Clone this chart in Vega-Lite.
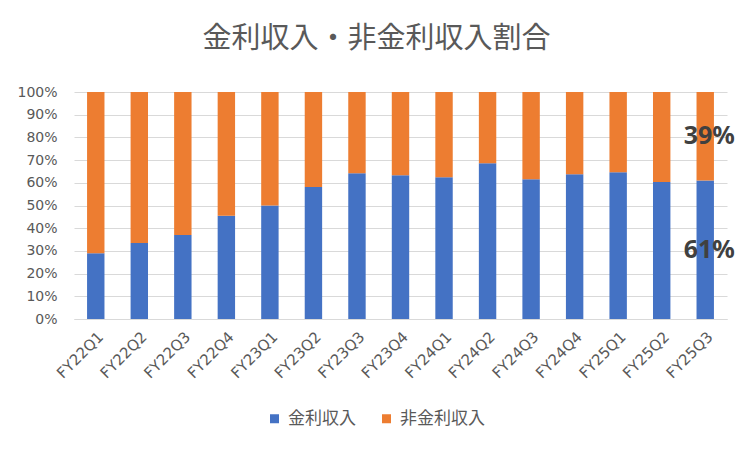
{
  "$schema": "https://vega.github.io/schema/vega-lite/v6.json",
  "width": 653,
  "height": 227,
  "autosize": "none",
  "padding": {"left": 74, "top": 92, "right": 25, "bottom": 133},
  "background": "white",
  "title": {
    "text": "金利収入・非金利収入割合",
    "font": "Noto Sans CJK JP",
    "fontSize": 29,
    "fontWeight": "normal",
    "color": "#595959",
    "anchor": "middle",
    "baseline": "alphabetic",
    "dx": -24,
    "offset": 8
  },
  "data": {
    "values": [
      {"quarter": "FY22Q1", "type": "金利収入", "value": 0.29},
      {"quarter": "FY22Q1", "type": "非金利収入", "value": 0.71},
      {"quarter": "FY22Q2", "type": "金利収入", "value": 0.335},
      {"quarter": "FY22Q2", "type": "非金利収入", "value": 0.665},
      {"quarter": "FY22Q3", "type": "金利収入", "value": 0.37},
      {"quarter": "FY22Q3", "type": "非金利収入", "value": 0.63},
      {"quarter": "FY22Q4", "type": "金利収入", "value": 0.455},
      {"quarter": "FY22Q4", "type": "非金利収入", "value": 0.545},
      {"quarter": "FY23Q1", "type": "金利収入", "value": 0.5},
      {"quarter": "FY23Q1", "type": "非金利収入", "value": 0.5},
      {"quarter": "FY23Q2", "type": "金利収入", "value": 0.582},
      {"quarter": "FY23Q2", "type": "非金利収入", "value": 0.418},
      {"quarter": "FY23Q3", "type": "金利収入", "value": 0.642},
      {"quarter": "FY23Q3", "type": "非金利収入", "value": 0.358},
      {"quarter": "FY23Q4", "type": "金利収入", "value": 0.633},
      {"quarter": "FY23Q4", "type": "非金利収入", "value": 0.367},
      {"quarter": "FY24Q1", "type": "金利収入", "value": 0.625},
      {"quarter": "FY24Q1", "type": "非金利収入", "value": 0.375},
      {"quarter": "FY24Q2", "type": "金利収入", "value": 0.686},
      {"quarter": "FY24Q2", "type": "非金利収入", "value": 0.314},
      {"quarter": "FY24Q3", "type": "金利収入", "value": 0.616},
      {"quarter": "FY24Q3", "type": "非金利収入", "value": 0.384},
      {"quarter": "FY24Q4", "type": "金利収入", "value": 0.638},
      {"quarter": "FY24Q4", "type": "非金利収入", "value": 0.362},
      {"quarter": "FY25Q1", "type": "金利収入", "value": 0.647},
      {"quarter": "FY25Q1", "type": "非金利収入", "value": 0.353},
      {"quarter": "FY25Q2", "type": "金利収入", "value": 0.603},
      {"quarter": "FY25Q2", "type": "非金利収入", "value": 0.397},
      {"quarter": "FY25Q3", "type": "金利収入", "value": 0.61},
      {"quarter": "FY25Q3", "type": "非金利収入", "value": 0.39}
    ]
  },
  "encoding": {
    "x": {
      "field": "quarter",
      "type": "ordinal",
      "title": null,
      "sort": null,
      "scale": {"paddingInner": 0.6, "paddingOuter": 0.3},
      "axis": {
        "labelAngle": -45,
        "labelFont": "DejaVu Sans",
        "labelFontSize": 15,
        "labelColor": "#595959",
        "labelPadding": 10,
        "ticks": false,
        "domainColor": "#d9d9d9",
        "domainWidth": 1
      }
    }
  },
  "layer": [
    {
      "mark": {"type": "bar"},
      "encoding": {
        "y": {
          "field": "value",
          "type": "quantitative",
          "stack": "zero",
          "title": null,
          "scale": {"domain": [0, 1]},
          "axis": {
            "format": ".0%",
            "values": [0, 0.1, 0.2, 0.3, 0.4, 0.5, 0.6, 0.7, 0.8, 0.9, 1],
            "labelOverlap": false,
            "labelFont": "DejaVu Sans",
            "labelFontSize": 14,
            "labelColor": "#595959",
            "labelPadding": 17,
            "ticks": false,
            "domain": false,
            "gridColor": "#d9d9d9",
            "gridWidth": 1
          }
        },
        "order": {"field": "type", "sort": "ascending"},
        "color": {
          "field": "type",
          "type": "nominal",
          "scale": {
            "domain": ["金利収入", "非金利収入"],
            "range": ["#4472C4", "#ED7D31"]
          },
          "legend": {
            "title": null,
            "orient": "none",
            "legendX": 192,
            "legendY": 318,
            "direction": "horizontal",
            "symbolType": "square",
            "symbolSize": 81,
            "symbolStrokeWidth": 0,
            "labelFont": "Noto Sans CJK JP",
            "labelFontSize": 17,
            "labelColor": "#595959",
            "labelOffset": 5,
            "columnPadding": 22
          }
        }
      }
    },
    {
      "transform": [
        {"filter": "datum.quarter == 'FY25Q3'"},
        {
          "stack": "value",
          "groupby": ["quarter"],
          "sort": [{"field": "type", "order": "ascending"}],
          "as": ["v0", "v1"]
        },
        {"calculate": "(datum.v0 + datum.v1) / 2", "as": "mid"}
      ],
      "mark": {
        "type": "text",
        "font": "Noto Sans",
        "fontSize": 25,
        "fontWeight": "bold",
        "color": "#404040",
        "align": "center",
        "baseline": "middle",
        "dx": 4
      },
      "encoding": {
        "y": {
          "field": "mid",
          "type": "quantitative",
          "title": null,
          "axis": {
            "format": ".0%",
            "values": [0, 0.1, 0.2, 0.3, 0.4, 0.5, 0.6, 0.7, 0.8, 0.9, 1],
            "labelOverlap": false,
            "labelFont": "DejaVu Sans",
            "labelFontSize": 14,
            "labelColor": "#595959",
            "labelPadding": 17,
            "ticks": false,
            "domain": false,
            "gridColor": "#d9d9d9",
            "gridWidth": 1
          }
        },
        "text": {"field": "value", "type": "quantitative", "format": ".0%"}
      }
    }
  ],
  "config": {
    "view": {"stroke": null}
  }
}
